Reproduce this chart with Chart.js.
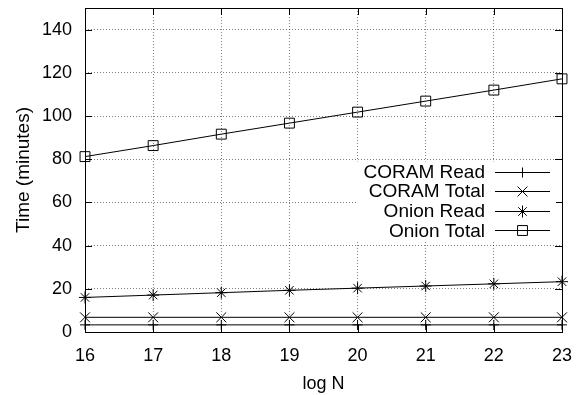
<!DOCTYPE html>
<html><head><meta charset="utf-8">
<script src="https://cdn.jsdelivr.net/npm/chart.js@4"></script>
<style>html,body{margin:0;padding:0;background:#fff}</style>
</head><body>
<canvas id="c" width="576" height="395"></canvas>
<script>
// Access time vs. log N for CORAM and Onion
const logN = [16, 17, 18, 19, 20, 21, 22, 23];
const coramRead = [3.3, 3.3, 3.3, 3.3, 3.3, 3.3, 3.3, 3.3];
const coramTotal = [6.8, 6.8, 6.8, 6.8, 6.8, 6.8, 6.8, 6.8];
const onionRead = [16.0, 17.1, 18.2, 19.3, 20.3, 21.3, 22.3, 23.3];
const onionTotal = [81.2, 86.3, 91.6, 96.7, 101.8, 106.9, 112.0, 117.2];
const seriesNames = ['CORAM Read', 'CORAM Total', 'Onion Read', 'Onion Total'];
const yTicks = [0, 20, 40, 60, 80, 100, 120, 140];
const xTicks = logN;

const FONT = 'Liberation Sans, Arial, Helvetica, sans-serif';

function series(label, values, style, radius) {
  return {
    label,
    data: values.map((v, i) => ({ x: logN[i], y: v })),
    borderColor: '#000',
    backgroundColor: 'rgba(0,0,0,0)',
    borderWidth: 1,
    pointStyle: style,
    pointRadius: radius,
    pointBorderColor: '#000',
    pointBorderWidth: 1,
    pointBackgroundColor: 'rgba(0,0,0,0)',
    tension: 0,
    clip: false
  };
}

// Box border with inward, mirrored tick marks
const frame = {
  id: 'frame',
  beforeDatasetsDraw(chart) {
    const { ctx, chartArea: a, scales } = chart;
    ctx.save();
    ctx.strokeStyle = '#000';
    ctx.lineWidth = 1;
    const tl = 7;
    ctx.beginPath();
    scales.x.ticks.forEach(t => {
      const px = Math.round(scales.x.getPixelForValue(t.value)) + 0.5;
      ctx.moveTo(px, a.bottom); ctx.lineTo(px, a.bottom - tl);
      ctx.moveTo(px, a.top); ctx.lineTo(px, a.top + tl);
    });
    scales.y.ticks.forEach(t => {
      const py = Math.round(scales.y.getPixelForValue(t.value)) + 0.5;
      ctx.moveTo(a.left, py); ctx.lineTo(a.left + tl, py);
      ctx.moveTo(a.right, py); ctx.lineTo(a.right - tl, py);
    });
    ctx.stroke();
    ctx.strokeRect(Math.round(a.left) + 0.5, Math.round(a.top) + 0.5,
      Math.round(a.right - a.left), Math.round(a.bottom - a.top));
    ctx.restore();
  }
};

// Key in the right half of the plot: label, then a line sample with marker
const keyBox = {
  id: 'keyBox',
  afterDatasetsDraw(chart) {
    const { ctx, chartArea: a } = chart;
    const textRight = a.right - 77;
    const lineL = a.right - 67, lineR = a.right - 12;
    const top = a.top + 163.5, step = 19.6;
    ctx.save();
    ctx.fillStyle = '#fff';
    ctx.fillRect(textRight - 128, top - 10, lineR - textRight + 134, step * 4 + 1);
    ctx.font = '19px ' + FONT;
    ctx.textAlign = 'right';
    ctx.textBaseline = 'middle';
    chart.data.datasets.forEach((ds, i) => {
      const y = top + i * step;
      ctx.fillStyle = '#000';
      ctx.fillText(ds.label, textRight, y + 1);
      ctx.strokeStyle = '#000';
      ctx.lineWidth = 1;
      ctx.beginPath();
      ctx.moveTo(lineL, Math.round(y) + 0.5);
      ctx.lineTo(lineR, Math.round(y) + 0.5);
      ctx.stroke();
      ctx.fillStyle = 'rgba(0,0,0,0)';
      Chart.helpers.drawPoint(ctx, {
        pointStyle: ds.pointStyle, radius: ds.pointRadius, rotation: 0, borderWidth: 1
      }, (lineL + lineR) / 2, Math.round(y) + 0.5);
    });
    ctx.restore();
  }
};

new Chart(document.getElementById('c'), {
  type: 'line',
  data: {
    datasets: [
      series(seriesNames[0], coramRead, 'cross', 5),
      series(seriesNames[1], coramTotal, 'crossRot', 7),
      series(seriesNames[2], onionRead, 'star', 6),
      series(seriesNames[3], onionTotal, 'rect', 7)
    ]
  },
  options: {
    responsive: false,
    animation: false,
    devicePixelRatio: 1,
    layout: { padding: { top: 5, right: 14, left: 0, bottom: 0 } },
    plugins: { legend: { display: false }, tooltip: { enabled: false } },
    scales: {
      x: {
        type: 'linear',
        min: 16, max: 23,
        afterBuildTicks(s) { s.ticks = xTicks.map(v => ({ value: v })); },
        afterFit(s) { s.height = 63; s.paddingLeft = 0; s.paddingRight = 0; },
        grid: { color: 'rgba(0,0,0,0.5)', lineWidth: 1, drawTicks: false },
        border: { display: false, dash: [1, 2] },
        ticks: { color: '#000', font: { family: FONT, size: 18 }, padding: 13, maxRotation: 0 },
        title: { display: true, text: 'log N', color: '#000', font: { family: FONT, size: 18 }, padding: { top: 6, bottom: 0 } }
      },
      y: {
        type: 'linear',
        min: 0, max: 150,
        afterBuildTicks(s) { s.ticks = yTicks.map(v => ({ value: v })); },
        afterFit(s) { s.width = 85; s.paddingTop = 0; s.paddingBottom = 0; },
        grid: { color: 'rgba(0,0,0,0.5)', lineWidth: 1, drawTicks: false },
        border: { display: false, dash: [1, 2] },
        ticks: { color: '#000', font: { family: FONT, size: 18 }, padding: 13 },
        title: { display: true, text: 'Time (minutes)', color: '#000', font: { family: FONT, size: 19 }, padding: { top: 12, bottom: 4 } }
      }
    }
  },
  plugins: [frame, keyBox]
});
</script>
</body></html>
